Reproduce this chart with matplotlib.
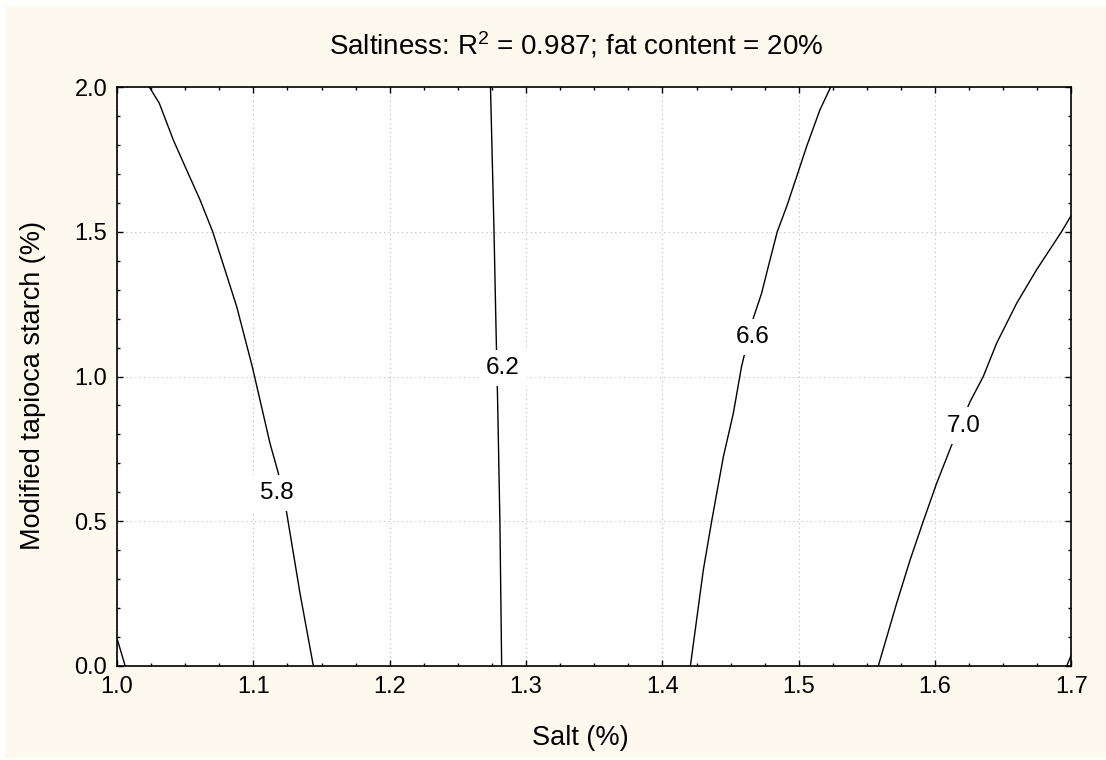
import matplotlib.pyplot as plt
from matplotlib.patches import Rectangle
from matplotlib.ticker import MultipleLocator

plt.rcParams['font.family'] = ['Liberation Sans', 'DejaVu Sans']
plt.rcParams['mathtext.fontset'] = 'custom'
plt.rcParams['mathtext.rm'] = 'Liberation Sans'
plt.rcParams['mathtext.default'] = 'regular'

# contour lines of predicted saltiness, traced as (salt, starch) points
levels = [5.4, 5.8, 6.2, 6.6, 7.0, 7.4]

salt_54 = [1.000, 1.006]
starch_54 = [0.095, 0.0]

salt_58 = [1.0237, 1.031, 1.0413, 1.0511, 1.0609, 1.0702, 1.0792, 1.0878,
           1.0992, 1.1122, 1.1183, 1.1244, 1.1342, 1.144]
starch_58 = [2.0, 1.944, 1.817, 1.713, 1.610, 1.5, 1.368, 1.241,
             1.034, 0.769, 0.666, 0.530, 0.251, 0.0]

salt_62 = [1.2739, 1.2752, 1.2765, 1.2778, 1.2792, 1.2808, 1.2821]
starch_62 = [2.0, 1.75, 1.5, 1.2, 0.9, 0.5, 0.0]

salt_66 = [1.5234, 1.5155, 1.5057, 1.4984, 1.4911, 1.4842, 1.4776, 1.4727,
           1.4666, 1.4580, 1.4520, 1.4447, 1.4361, 1.4300, 1.4205]
starch_66 = [2.0, 1.921, 1.794, 1.690, 1.587, 1.5, 1.379, 1.287,
             1.201, 1.034, 0.873, 0.723, 0.5, 0.332, 0.0]

salt_70 = [1.7, 1.6927, 1.6743, 1.6598, 1.6451, 1.6353, 1.6256, 1.6121,
           1.6011, 1.5913, 1.5816, 1.5718, 1.5583]
starch_70 = [1.558, 1.5, 1.368, 1.253, 1.115, 1.0, 0.913, 0.763,
             0.631, 0.5, 0.366, 0.217, 0.0]

salt_74 = [1.6965, 1.7]
starch_74 = [0.0, 0.04]

lines = [(salt_54, starch_54), (salt_58, starch_58), (salt_62, starch_62),
         (salt_66, starch_66), (salt_70, starch_70), (salt_74, starch_74)]

# inline labels: level, salt, starch
label_levels = [5.8, 6.2, 6.6, 7.0]
label_salt = [1.1173, 1.283, 1.466, 1.6213]
label_starch = [0.598, 1.03, 1.136, 0.83]

fig = plt.figure(figsize=(11.06, 7.6), dpi=100, facecolor='white')
fig.patches.append(Rectangle((0.0045, 0.0026), 0.9955, 0.9895,
                             transform=fig.transFigure, facecolor='#fdf9ee',
                             edgecolor='none', zorder=-1))

ax = fig.add_axes([0.1058, 0.1237, 0.863, 0.7618])
ax.set_facecolor('white')

for (xs, ys) in lines:
    ax.plot(xs, ys, color='black', lw=1.0, zorder=3)

for lev, x, y in zip(label_levels, label_salt, label_starch):
    ax.text(x, y, f'{lev:.1f}', fontsize=17.5, ha='center', va='center', zorder=4,
            bbox=dict(boxstyle='square,pad=0.3', facecolor='white', edgecolor='none'))

ax.set_xlim(1.0, 1.7)
ax.set_ylim(0.0, 2.0)
ax.xaxis.set_major_locator(MultipleLocator(0.1))
ax.xaxis.set_minor_locator(MultipleLocator(0.025))
ax.yaxis.set_major_locator(MultipleLocator(0.5))
ax.yaxis.set_minor_locator(MultipleLocator(0.1))
ax.xaxis.set_major_formatter(plt.FormatStrFormatter('%.1f'))
ax.yaxis.set_major_formatter(plt.FormatStrFormatter('%.1f'))

ax.grid(True, which='major', color='#bbbbbb', linestyle=(0, (1, 3)), lw=0.8, zorder=1)
ax.tick_params(which='both', direction='in', top=True, right=True,
               labelsize=17, width=1.0, color='black')
ax.tick_params(axis='x', which='major', length=4, pad=7)
ax.tick_params(axis='y', which='major', length=4, pad=7)
ax.tick_params(which='minor', length=2.3)
for s in ax.spines.values():
    s.set_linewidth(1.2)
    s.set_color('black')

ax.set_xlabel('Salt (%)', fontsize=19.5)
ax.set_ylabel('Modified tapioca starch (%)', fontsize=19.5)
ax.xaxis.set_label_coords(0.485, -0.102)
ax.yaxis.set_label_coords(-0.074, 0.484)
fig.text(0.521, 0.941, 'Saltiness: R$^2$ = 0.987; fat content = 20%',
         fontsize=20, ha='center', va='center')

fig.savefig('out.png', dpi=100, facecolor=fig.get_facecolor())
